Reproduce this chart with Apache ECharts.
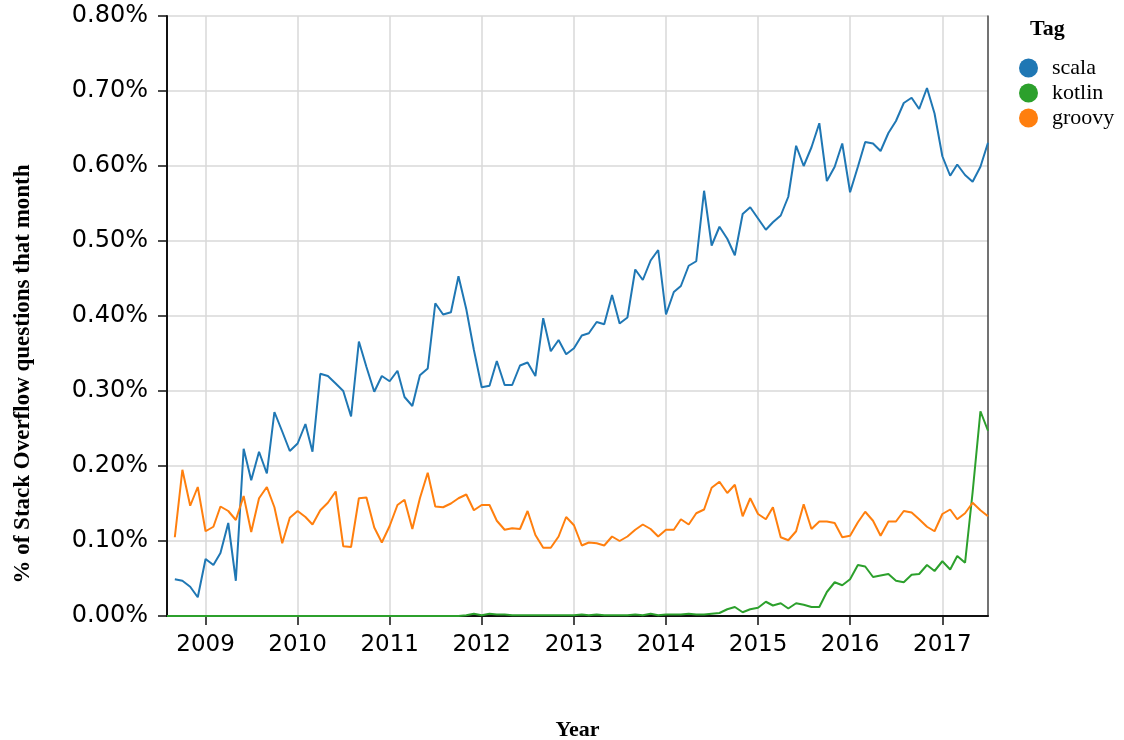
<!DOCTYPE html>
<html>
<head>
<meta charset="utf-8">
<script src="https://cdn.jsdelivr.net/npm/echarts@6/dist/echarts.min.js"></script>
<style>
  html, body { margin: 0; padding: 0; background: #fff; }
  #chart { width: 1124px; height: 740px; }
</style>
</head>
<body>
<div id="chart"></div>
<script>
// Months (category values), Aug 2008 .. Jul 2017
const months = [
  '2008-08','2008-09','2008-10','2008-11','2008-12',
  '2009-01','2009-02','2009-03','2009-04','2009-05','2009-06','2009-07','2009-08','2009-09','2009-10','2009-11','2009-12',
  '2010-01','2010-02','2010-03','2010-04','2010-05','2010-06','2010-07','2010-08','2010-09','2010-10','2010-11','2010-12',
  '2011-01','2011-02','2011-03','2011-04','2011-05','2011-06','2011-07','2011-08','2011-09','2011-10','2011-11','2011-12',
  '2012-01','2012-02','2012-03','2012-04','2012-05','2012-06','2012-07','2012-08','2012-09','2012-10','2012-11','2012-12',
  '2013-01','2013-02','2013-03','2013-04','2013-05','2013-06','2013-07','2013-08','2013-09','2013-10','2013-11','2013-12',
  '2014-01','2014-02','2014-03','2014-04','2014-05','2014-06','2014-07','2014-08','2014-09','2014-10','2014-11','2014-12',
  '2015-01','2015-02','2015-03','2015-04','2015-05','2015-06','2015-07','2015-08','2015-09','2015-10','2015-11','2015-12',
  '2016-01','2016-02','2016-03','2016-04','2016-05','2016-06','2016-07','2016-08','2016-09','2016-10','2016-11','2016-12',
  '2017-01','2017-02','2017-03','2017-04','2017-05','2017-06','2017-07'
];

// % of Stack Overflow questions that month
const scala = [
  null, 0.049, 0.047, 0.039, 0.025,
  0.076, 0.068, 0.084, 0.124, 0.047, 0.223, 0.181, 0.219, 0.190, 0.272, 0.246, 0.220,
  0.230, 0.256, 0.219, 0.323, 0.320, 0.310, 0.300, 0.266, 0.366, 0.332, 0.299, 0.320,
  0.313, 0.327, 0.292, 0.280, 0.321, 0.330, 0.417, 0.402, 0.405, 0.453, 0.409, 0.355,
  0.305, 0.307, 0.340, 0.308, 0.308, 0.334, 0.338, 0.320, 0.397, 0.353, 0.368, 0.349,
  0.357, 0.374, 0.377, 0.392, 0.389, 0.428, 0.390, 0.398, 0.462, 0.448, 0.474, 0.488,
  0.402, 0.432, 0.440, 0.467, 0.473, 0.567, 0.494, 0.519, 0.503, 0.481, 0.536, 0.545,
  0.530, 0.515, 0.525, 0.534, 0.559, 0.627, 0.600, 0.625, 0.657, 0.580, 0.599, 0.630,
  0.565, 0.599, 0.632, 0.630, 0.620, 0.644, 0.660, 0.684, 0.691, 0.676, 0.704, 0.670,
  0.613, 0.587, 0.602, 0.588, 0.579, 0.599, 0.631
];

const kotlin = [
  0, 0, 0, 0, 0,
  0, 0, 0, 0, 0, 0, 0, 0, 0, 0, 0, 0,
  0, 0, 0, 0, 0, 0, 0, 0, 0, 0, 0, 0,
  0, 0, 0, 0, 0, 0, 0, 0, 0, 0, 0.001, 0.003,
  0.001, 0.003, 0.002, 0.002, 0.001, 0.001, 0.001, 0.001, 0.001, 0.001, 0.001, 0.001,
  0.001, 0.002, 0.001, 0.002, 0.001, 0.001, 0.001, 0.001, 0.002, 0.001, 0.003, 0.001,
  0.002, 0.002, 0.002, 0.003, 0.002, 0.002, 0.003, 0.004, 0.009, 0.012, 0.005, 0.009,
  0.011, 0.019, 0.014, 0.017, 0.010, 0.017, 0.015, 0.012, 0.012, 0.032, 0.045, 0.041,
  0.049, 0.068, 0.066, 0.052, 0.054, 0.056, 0.047, 0.045, 0.055, 0.056, 0.068, 0.060,
  0.073, 0.062, 0.080, 0.071, 0.165, 0.273, 0.247
];

const groovy = [
  null, 0.105, 0.195, 0.147, 0.172,
  0.113, 0.119, 0.146, 0.140, 0.128, 0.160, 0.112, 0.157, 0.172, 0.145, 0.097, 0.131,
  0.140, 0.132, 0.122, 0.141, 0.151, 0.166, 0.093, 0.092, 0.157, 0.158, 0.118, 0.098,
  0.120, 0.148, 0.155, 0.116, 0.157, 0.191, 0.146, 0.145, 0.150, 0.157, 0.162, 0.141,
  0.148, 0.148, 0.127, 0.115, 0.117, 0.116, 0.140, 0.108, 0.091, 0.091, 0.106, 0.132,
  0.121, 0.094, 0.098, 0.097, 0.094, 0.106, 0.100, 0.106, 0.115, 0.122, 0.116, 0.106,
  0.115, 0.115, 0.129, 0.122, 0.137, 0.142, 0.171, 0.179, 0.164, 0.175, 0.133, 0.157,
  0.136, 0.129, 0.145, 0.105, 0.101, 0.113, 0.149, 0.116, 0.126, 0.126, 0.124, 0.105,
  0.107, 0.125, 0.139, 0.127, 0.107, 0.126, 0.126, 0.140, 0.138, 0.129, 0.119, 0.113,
  0.136, 0.142, 0.129, 0.137, 0.151, 0.141, 0.133
];

const yearTicks = ['2009','2010','2011','2012','2013','2014','2015','2016','2017'];
const domainStart = '2008-08';
const domainEnd = '2017-07';
const seriesNames = ['scala', 'kotlin', 'groovy'];
const colors = ['#1f77b4', '#2ca02c', '#ff7f0e'];

function monthTs(s) {
  const p = s.split('-');
  return Date.UTC(+p[0], +p[1] - 1, 1);
}
const yearTs = yearTicks.map(y => Date.UTC(+y, 0, 1));
function pairs(vals) {
  return months.map((m, i) => [monthTs(m), vals[i]]);
}

const sansFont = 'DejaVu Sans';
const serifFont = 'Liberation Serif';

const chart = echarts.init(document.getElementById('chart'), null, { renderer: 'canvas' });
chart.setOption({
  animation: false,
  backgroundColor: '#ffffff',
  title: {
    text: 'Tag',
    left: 1030,
    top: 18,
    padding: 0,
    textStyle: { fontFamily: serifFont, fontWeight: 'bold', fontSize: 22, color: '#000' }
  },
  legend: {
    data: seriesNames,
    orient: 'vertical',
    left: 1019,
    top: 57,
    padding: 0,
    icon: 'circle',
    itemWidth: 19,
    itemHeight: 19,
    itemGap: 3,
    textStyle: { fontFamily: serifFont, fontSize: 22, lineHeight: 19, color: '#000', padding: [0, 0, 0, 9] }
  },
  grid: { left: 167, top: 16, width: 821, height: 600, containLabel: false, outerBoundsMode: 'none' },
  xAxis: {
    type: 'value',
    min: monthTs(domainStart),
    max: monthTs(domainEnd),
    name: 'Year',
    nameLocation: 'middle',
    nameGap: 103,
    nameTextStyle: { fontFamily: serifFont, fontWeight: 'bold', fontSize: 22, color: '#000' },
    axisLine: { show: true, onZero: false, lineStyle: { color: '#111', width: 2 } },
    axisTick: { show: true, customValues: yearTs, length: 9, lineStyle: { color: '#111', width: 1.5 } },
    axisLabel: {
      customValues: yearTs,
      formatter: function (v) {
        const i = yearTs.indexOf(v);
        return i >= 0 ? yearTicks[i] : String(new Date(v).getUTCFullYear());
      },
      fontFamily: sansFont, fontSize: 23, color: '#000', margin: 18,
      showMinLabel: true, showMaxLabel: true, hideOverlap: false
    },
    splitLine: { show: true, lineStyle: { color: '#d9d9d9', width: 1.5 } }
  },
  yAxis: [{
    type: 'value',
    min: 0,
    max: 0.8,
    interval: 0.1,
    axisLine: { show: true, lineStyle: { color: '#111', width: 2 } },
    axisTick: { show: true, length: 9, lineStyle: { color: '#111', width: 1.5 } },
    axisLabel: {
      formatter: function (v) { return v.toFixed(2) + '%'; },
      fontFamily: sansFont, fontSize: 24, color: '#000', margin: 19
    },
    splitLine: { show: true, lineStyle: { color: '#d9d9d9', width: 1.5 } }
  }, {
    type: 'value',
    position: 'right',
    min: 0,
    max: 0.8,
    interval: 0.1,
    axisLine: { show: true, lineStyle: { color: '#444', width: 1.5 } },
    axisTick: { show: false },
    axisLabel: { show: false },
    splitLine: { show: false }
  }],
  graphic: [{
    type: 'text',
    x: 23,
    y: 374,
    rotation: Math.PI / 2,
    style: {
      text: '% of Stack Overflow questions that month',
      fontFamily: serifFont,
      fontWeight: 'bold',
      fontSize: 23,
      fill: '#000',
      align: 'center',
      verticalAlign: 'middle'
    }
  }],
  series: [
    { name: 'scala', type: 'line', data: pairs(scala) },
    { name: 'kotlin', type: 'line', data: pairs(kotlin) },
    { name: 'groovy', type: 'line', data: pairs(groovy) }
  ].map((s, i) => Object.assign(s, {
    showSymbol: false,
    symbol: 'none',
    connectNulls: false,
    color: colors[i],
    itemStyle: { color: colors[i] },
    lineStyle: { color: colors[i], width: 2 },
    z: 3
  }))
});
</script>
</body>
</html>
